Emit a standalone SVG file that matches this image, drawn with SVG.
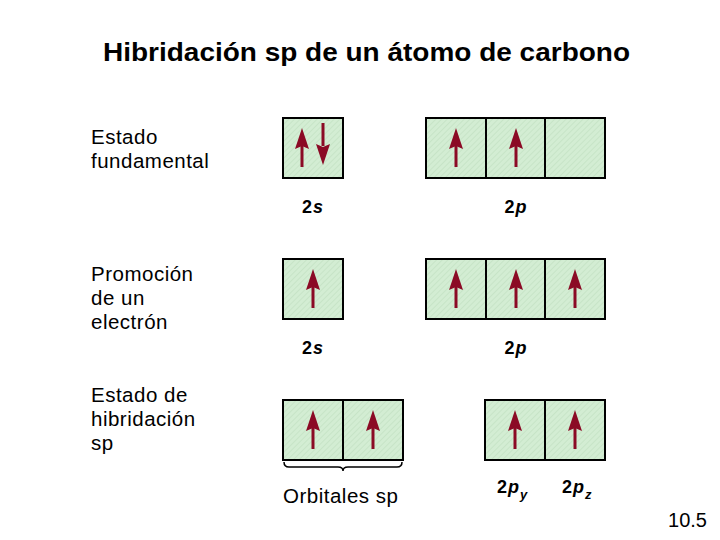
<svg xmlns="http://www.w3.org/2000/svg" width="720" height="540" viewBox="0 0 720 540">
<style>
.t{font-family:"Liberation Sans",Arial,sans-serif;fill:#000}
.lbl{font-size:20.5px;letter-spacing:0.5px}
.ol{font-size:18px;font-weight:bold;letter-spacing:1px}
.box{fill:url(#hatch);stroke:#000;stroke-width:2}
.arr{fill:#8b0a25;stroke:none}
.sh{stroke:#8b0a25;stroke-width:3}
</style>
<defs>
<pattern id="hatch" width="4" height="4" patternUnits="userSpaceOnUse" patternTransform="rotate(45)">
<rect width="4" height="4" fill="#d3edd3"/>
<line x1="0" y1="0" x2="0" y2="4" stroke="#bcdcbc" stroke-width="1"/>
</pattern>
<g id="up"><line class="sh" x1="0" y1="144" x2="0" y2="167"/><path class="arr" d="M0,128 L7,149 L0,146 L-7,149 Z"/></g>
<g id="down"><line class="sh" x1="0" y1="123" x2="0" y2="146"/><path class="arr" d="M0,165 L7,144 L0,147 L-7,144 Z"/></g>
</defs>
<rect width="720" height="540" fill="#fff"/>
<text class="t" x="103" y="61" font-size="25" font-weight="bold" textLength="527" lengthAdjust="spacingAndGlyphs">Hibridación sp de un átomo de carbono</text>

<g id="labels">
<text class="t lbl" x="91" y="144">Estado</text>
<text class="t lbl" x="91" y="168">fundamental</text>
<text class="t lbl" x="91" y="281">Promoción</text>
<text class="t lbl" x="91" y="305">de un</text>
<text class="t lbl" x="91" y="329">electrón</text>
<text class="t lbl" x="91" y="402">Estado de</text>
<text class="t lbl" x="91" y="426">hibridación</text>
<text class="t lbl" x="91" y="450">sp</text>
</g>

<g id="ground-2s">
<rect class="box" x="283" y="118" width="60" height="60"/>
<use href="#up" x="302"/>
<use href="#down" x="323"/>
<text class="t ol" x="313" y="213" text-anchor="middle">2<tspan font-style="italic">s</tspan></text>
</g>
<g id="ground-2p">
<rect class="box" x="426" y="118" width="60" height="60"/>
<rect class="box" x="486" y="118" width="59" height="60"/>
<rect class="box" x="545" y="118" width="60" height="60"/>
<use href="#up" x="456"/>
<use href="#up" x="516"/>
<text class="t ol" x="516" y="213" text-anchor="middle">2<tspan font-style="italic">p</tspan></text>
</g>

<g id="promo-2s">
<rect class="box" x="283" y="259" width="60" height="60"/>
<use href="#up" x="313" y="141"/>
<text class="t ol" x="313" y="354" text-anchor="middle">2<tspan font-style="italic">s</tspan></text>
</g>
<g id="promo-2p">
<rect class="box" x="426" y="259" width="60" height="60"/>
<rect class="box" x="486" y="259" width="59" height="60"/>
<rect class="box" x="545" y="259" width="60" height="60"/>
<use href="#up" x="456" y="141"/>
<use href="#up" x="516" y="141"/>
<use href="#up" x="575" y="141"/>
<text class="t ol" x="516" y="354" text-anchor="middle">2<tspan font-style="italic">p</tspan></text>
</g>

<g id="hyb-sp">
<rect class="box" x="283" y="400" width="60" height="60"/>
<rect class="box" x="343" y="400" width="60" height="60"/>
<use href="#up" x="313" y="282"/>
<use href="#up" x="373" y="282"/>
<path d="M284,462 Q284,467 289,467 L338,467 Q343,467 343,471 Q343,467 348,467 L397,467 Q402,467 402,462" fill="none" stroke="#000" stroke-width="1.5"/>
<text class="t lbl" x="283" y="503">Orbitales sp</text>
</g>
<g id="hyb-2p">
<rect class="box" x="485" y="400" width="60" height="60"/>
<rect class="box" x="545" y="400" width="60" height="60"/>
<use href="#up" x="515" y="282"/>
<use href="#up" x="575" y="282"/>
<text class="t ol" x="497" y="493">2<tspan font-style="italic">p</tspan><tspan font-size="13" font-style="italic" dy="6">y</tspan></text>
<text class="t ol" x="562" y="493">2<tspan font-style="italic">p</tspan><tspan font-size="13" font-style="italic" dy="6">z</tspan></text>
</g>

<text class="t" x="707" y="527" font-size="20" text-anchor="end">10.5</text>
</svg>
